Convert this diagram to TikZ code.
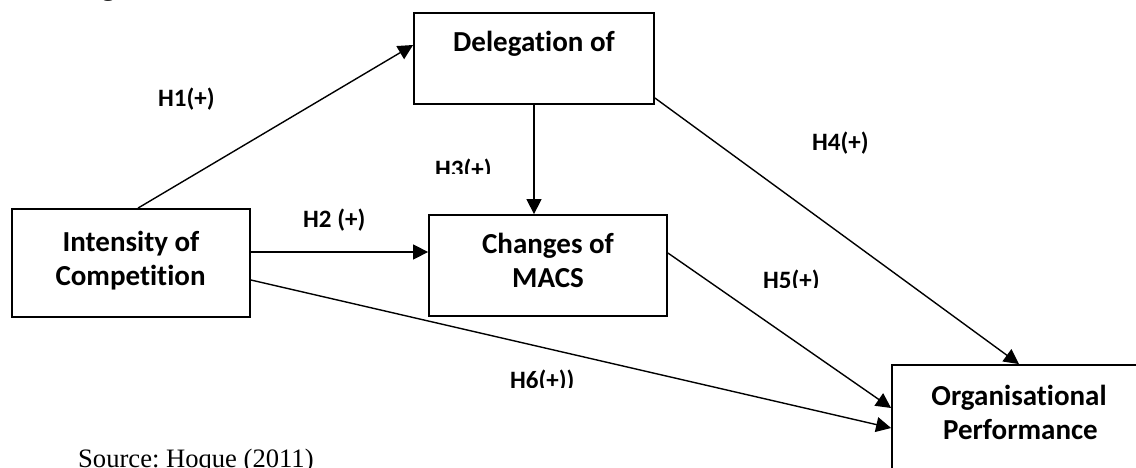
\documentclass[tikz,border=0pt]{standalone}
\usepackage{fontspec}
\setmainfont{Liberation Serif}
\newfontfamily\calibri[Ligatures=NoCommon]{Carlito}
\usetikzlibrary{arrows.meta,calc}
\frenchspacing

\begin{document}
\begin{tikzpicture}[x=1pt,y=-1pt,
  box/.style={draw,line width=1.8pt,inner sep=0pt},
  boxtext/.style={anchor=base,inner sep=0pt,font=\calibri\bfseries\fontsize{29}{34}\selectfont},
  hyp/.style={anchor=base west,inner sep=0pt,font=\calibri\bfseries\fontsize{25}{30}\selectfont},
  conn/.style={line width=1.4pt,-{Triangle[length=15pt,width=15pt]}},
  note/.style={anchor=base west,inner sep=0pt,font=\fontsize{26.6}{32}\selectfont}]

\useasboundingbox (0,0) rectangle (1136,468);

% heading above the figure (only its lowest stroke falls on the page)
\node[note,font=\bfseries\fontsize{26.6}{32}\selectfont] (head) at (78,-4) {Figure};

% construct boxes
\node[box,minimum width=240,minimum height=91] (deleg) at (534,58.5) {};
\node[box,minimum width=238,minimum height=108] (inten) at (131,263) {};
\node[box,minimum width=238,minimum height=101] (macs) at (548,265.5) {};
\node[box,minimum width=258,minimum height=115] (perf) at (1021,422.5) {};

% box captions
\node[boxtext] (tdeleg) at (534,52) {Delegation of};
\node[boxtext] (tinten1) at (131,251.4) {Intensity of};
\node[boxtext] (tinten2) at (130.5,285) {Competition};
\node[boxtext] (tmacs1) at (548,253.7) {Changes of};
\node[boxtext] (tmacs2) at (548,287) {MACS};
\node[boxtext] (tperf1) at (1019,405.4) {Organisational};
\node[boxtext] (tperf2) at (1020.5,439) {Performance};

% hypothesised paths
\draw[conn] ($(inten.north)+(7,0)$) -- ($(deleg.west)+(0,-13.5)$);
\draw[conn] (deleg.south) -- (deleg.south |- macs.north);
\coordinate (h2s) at ($(inten.east)+(0,-11)$);
\draw[conn] (h2s) -- (macs.west |- h2s);
\draw[conn] ($(deleg.east)+(0,39.5)$) -- ($(perf.north)+(-2,0)$);
\draw[conn] ($(macs.east)+(0,-12.5)$) -- ($(perf.west)+(0,-14.5)$);
\draw[conn] ($(inten.east)+(0,17)$) -- ($(perf.west)+(0,5.5)$);

% path labels
\node[hyp] (lh1) at (158,106.8) {H1(+)};
\node[hyp] (lh2) at (303,228) {H2 (+)};
\begin{scope}
  \clip (400,140) rectangle (520,174);
  \node[hyp] (lh3) at (435,178) {H3(+)};
\end{scope}
\node[hyp] (lh4) at (812,151) {H4(+)};
\begin{scope}
  \clip (740,250) rectangle (850,287);
  \node[hyp] (lh5) at (763,288) {H5(+)};
\end{scope}
\begin{scope}
  \clip (490,350) rectangle (600,387);
  \node[hyp] (lh6) at (510,388) {H6(+))};
\end{scope}

% source line
\node[note] (src) at (78,467.5) {Source: Hoque (2011)};
\end{tikzpicture}
\end{document}
